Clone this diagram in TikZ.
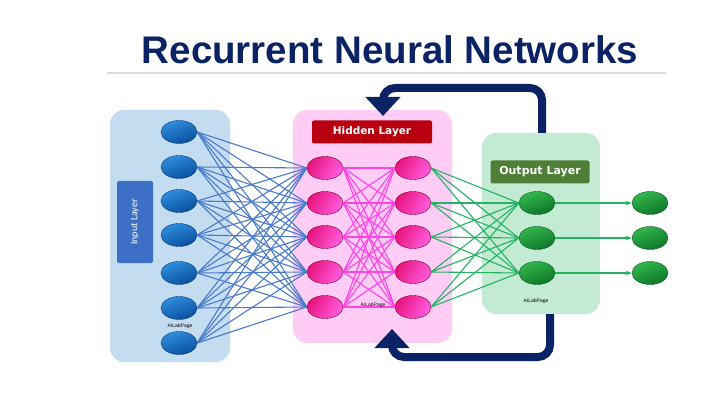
\documentclass[tikz,border=0pt]{standalone}
\usepackage{fontspec}
\setmainfont{Liberation Sans}
\newfontfamily\calfont{Carlito}
\newfontfamily\tagfont{DejaVu Sans}
\usetikzlibrary{arrows.meta,shapes.geometric,calc}
\definecolor{navy}{HTML}{0B2265}
\definecolor{inbg}{HTML}{C4DCEF}
\definecolor{hidbg}{HTML}{FFCCF6}
\definecolor{outbg}{HTML}{C3EAD3}
\definecolor{inwire}{HTML}{4A7ACC}
\definecolor{hidwire}{HTML}{FF44E6}
\definecolor{outwire}{HTML}{22B462}
\definecolor{intagc}{HTML}{3C6FC6}
\definecolor{hidtagc}{HTML}{B80010}
\definecolor{outtagc}{HTML}{4F7F36}
\definecolor{blueA}{HTML}{2E8FDD}
\definecolor{blueB}{HTML}{0A4E9C}
\definecolor{pinkA}{HTML}{E8157E}
\definecolor{pinkB}{HTML}{FF5CE0}
\definecolor{greenA}{HTML}{34B84E}
\definecolor{greenB}{HTML}{0C7428}
\tikzset{
  panel/.style  = {rounded corners=14pt, draw=none},
  tag/.style    = {rounded corners=2pt, text=white, align=center, inner sep=0pt},
  neur/.style   = {ellipse, minimum width=36pt, minimum height=23pt, inner sep=0pt},
  inneur/.style = {neur, draw=blueB!80!black, top color=blueA, bottom color=blueB, shading angle=20},
  hidneur/.style= {neur, draw=purple!70!black, left color=pinkA, right color=pinkB, shading angle=60},
  outneur/.style= {neur, draw=greenB!80!black, top color=greenA, bottom color=greenB, shading angle=20},
  wire/.style   = {line width=1.1pt}
}
\begin{document}
\begin{tikzpicture}[x=1pt, y=-1pt]
  \useasboundingbox (0,0) rectangle (714,403);
  % title
  \node[font=\bfseries\fontsize{38.5}{42}\selectfont, text=navy] (title) at (390,50) {Recurrent Neural Networks};
  \draw[line width=1.5pt, color=blue!15!gray!25!white] (107,73) -- (666,73);

  % layer panels
  \fill[panel, inbg]  (110,110) rectangle (230,362);
  \fill[panel, hidbg] (293,110) rectangle (452,343);
  \fill[panel, outbg] (482,133) rectangle (600,314);

  % feedback loop
  \coordinate (fbtop)  at (542,133);
  \coordinate (fbbot)  at (550,314);
  \draw[navy, line width=8pt, rounded corners=12pt, -{Triangle[width=34pt,length=19pt]}]
    (fbtop) -- (542,88) -- (383,88) -- (383,116);
  \draw[navy, line width=8pt, rounded corners=12pt, -{Triangle[width=34pt,length=19pt]}]
    (fbbot) -- (550,357) -- (392,357) -- (392,329);

  % layer tags
  \node[tag, fill=intagc, minimum width=36pt, minimum height=82pt] (intag) at (135,222)
        {\rotatebox{90}{\calfont\fontsize{10}{12}\selectfont Input Layer}};
  \node[tag, fill=hidtagc, minimum width=120pt, minimum height=23pt, font=\tagfont\bfseries\fontsize{10.5}{12}\selectfont] (hidtag) at (372,132) {Hidden Layer};
  \node[tag, fill=outtagc, minimum width=99pt, minimum height=23pt, font=\tagfont\bfseries\fontsize{11}{13}\selectfont] (outtag) at (540,172) {Output Layer};

  % neurons
  \foreach \y [count=\i] in {132,167,201,235,273,308,343}
    \node[inneur] (in\i) at (179,\y) {};
  \foreach \y [count=\i] in {168,203,237,272,307} {
    \node[hidneur] (ha\i) at (325,\y) {};
    \node[hidneur] (hb\i) at (413,\y) {};
  }
  \foreach \y [count=\i] in {203,238,273} {
    \node[outneur] (out\i) at (537,\y) {};
    \node[outneur] (res\i) at (650,\y) {};
  }

  % connections
  \foreach \i in {1,...,7}
    \foreach \j in {1,...,5}
      \draw[wire, inwire] (in\i.east) -- (ha\j.west);
  \foreach \i in {1,...,5}
    \foreach \j in {1,...,5}
      \draw[wire, hidwire] (ha\i.east) -- (hb\j.west);
  \foreach \i in {1,...,5}
    \foreach \j in {1,...,3}
      \draw[wire, outwire] (hb\i.east) -- (out\j.west);
  \foreach \i in {1,...,3}
    \draw[wire, outwire, -{Stealth[length=6pt]}] (out\i.east) -- (res\i.west);

  % watermarks
  \node[font=\fontsize{5}{6}\selectfont] (wm1) at (180,326) {AILabPage};
  \node[font=\fontsize{5}{6}\selectfont] (wm2) at (373,305) {AILabPage};
  \node[font=\fontsize{5}{6}\selectfont] (wm3) at (536,301) {AILabPage};
\end{tikzpicture}
\end{document}
